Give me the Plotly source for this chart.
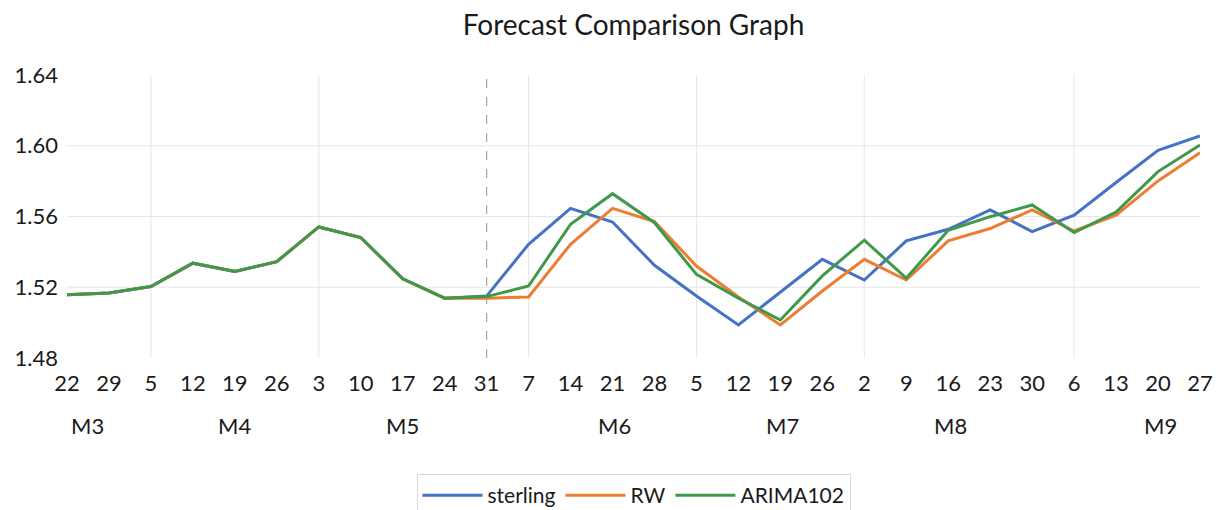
import plotly.graph_objects as go

day_labels = ["22", "29", "5", "12", "19", "26", "3", "10", "17", "24", "31", "7", "14", "21",
              "28", "5", "12", "19", "26", "2", "9", "16", "23", "30", "6", "13", "20", "27"]

sterling = [1.5157, 1.5168, 1.5204, 1.5336, 1.5289, 1.5345, 1.5541, 1.5481, 1.5248, 1.5138,
            1.5150, 1.5443, 1.5646, 1.5569, 1.5324, 1.5151, 1.4987, 1.5175, 1.5358, 1.5241,
            1.5462, 1.5528, 1.5637, 1.5515, 1.5607, 1.5792, 1.5974, 1.6055]
rw = [1.5157, 1.5168, 1.5204, 1.5336, 1.5289, 1.5345, 1.5541, 1.5481, 1.5248, 1.5138,
      1.5138, 1.5145, 1.5443, 1.5646, 1.5571, 1.5320, 1.5145, 1.4987, 1.5179, 1.5358,
      1.5241, 1.5462, 1.5532, 1.5637, 1.5518, 1.5608, 1.5801, 1.5961]
arima102 = [1.5157, 1.5168, 1.5204, 1.5336, 1.5289, 1.5345, 1.5541, 1.5481, 1.5248, 1.5138,
            1.5147, 1.5207, 1.5556, 1.5729, 1.5565, 1.5273, 1.5138, 1.5015, 1.5264, 1.5466,
            1.5251, 1.5522, 1.5599, 1.5665, 1.5509, 1.5625, 1.5854, 1.6004]

month_labels = ["M3", "M4", "M5", "M6", "M7", "M8", "M9"]
month_centers = [0.5, 4.0, 8.0, 13.05, 17.05, 21.05, 26.05]
month_gridlines = [2, 6, 11, 15, 19, 24]
forecast_start = 10
y_ticks = [1.48, 1.52, 1.56, 1.60, 1.64]

x = list(range(len(day_labels)))
FONT = "Lato"
TXT = "#1a1a1a"

fig = go.Figure()
for name, ys, col in [("sterling", sterling, "#4472C4"),
                      ("RW", rw, "#ED7D31"),
                      ("ARIMA102", arima102, "#40984A")]:
    fig.add_trace(go.Scatter(x=x, y=ys, name=name, mode="lines",
                             line=dict(color=col, width=3)))

shapes = []
for g in month_gridlines:
    shapes.append(dict(type="line", xref="x", yref="paper", x0=g, x1=g, y0=0, y1=1,
                       line=dict(color="#e6e6e6", width=1), layer="below"))
for v in y_ticks[1:-1]:
    shapes.append(dict(type="line", xref="paper", yref="y", x0=0, x1=1, y0=v, y1=v,
                       line=dict(color="#e6e6e6", width=1), layer="below"))
shapes.append(dict(type="line", xref="x", yref="paper", x0=forecast_start, x1=forecast_start,
                   y0=0, y1=1, line=dict(color="#a6a6a6", width=1.2, dash="dash"), layer="below"))

annotations = []
for lab, c in zip(month_labels, month_centers):
    annotations.append(dict(text=lab, x=c, xref="x", y=0, yref="paper", yshift=-67,
                            yanchor="middle", xanchor="center", showarrow=False,
                            font=dict(family=FONT, size=22, color=TXT)))

fig.update_layout(
    width=1216, height=510,
    margin=dict(l=67, r=16, t=75, b=151.5, autoexpand=False),
    paper_bgcolor="white", plot_bgcolor="white",
    title=dict(text="Forecast Comparison Graph", x=0.5, xref="paper", xanchor="center",
               y=1 - 25 / 510, yanchor="middle",
               font=dict(family=FONT, size=28, color=TXT)),
    xaxis=dict(range=[0, len(day_labels) - 1], tickmode="array", tickvals=x, ticktext=day_labels,
               showgrid=False, zeroline=False, showline=False, ticks="",
               ticklabelstandoff=10, automargin=False,
               tickfont=dict(family=FONT, size=22, color=TXT)),
    yaxis=dict(range=[1.48, 1.64], tickmode="array", tickvals=y_ticks,
               ticktext=[f"{v:.2f}" for v in y_ticks],
               showgrid=False, zeroline=False, showline=False, ticks="",
               ticklabelstandoff=8, automargin=False,
               tickfont=dict(family=FONT, size=22, color=TXT)),
    legend=dict(orientation="h", x=0.5, xref="paper", xanchor="center",
                y=(510 - 474) / 510, yref="container", yanchor="top", bgcolor="white",
                bordercolor="#d9d9d9", borderwidth=1, itemwidth=60,
                font=dict(family=FONT, size=21, color=TXT)),
    shapes=shapes, annotations=annotations,
    showlegend=True,
)

fig.write_html("out.html")
